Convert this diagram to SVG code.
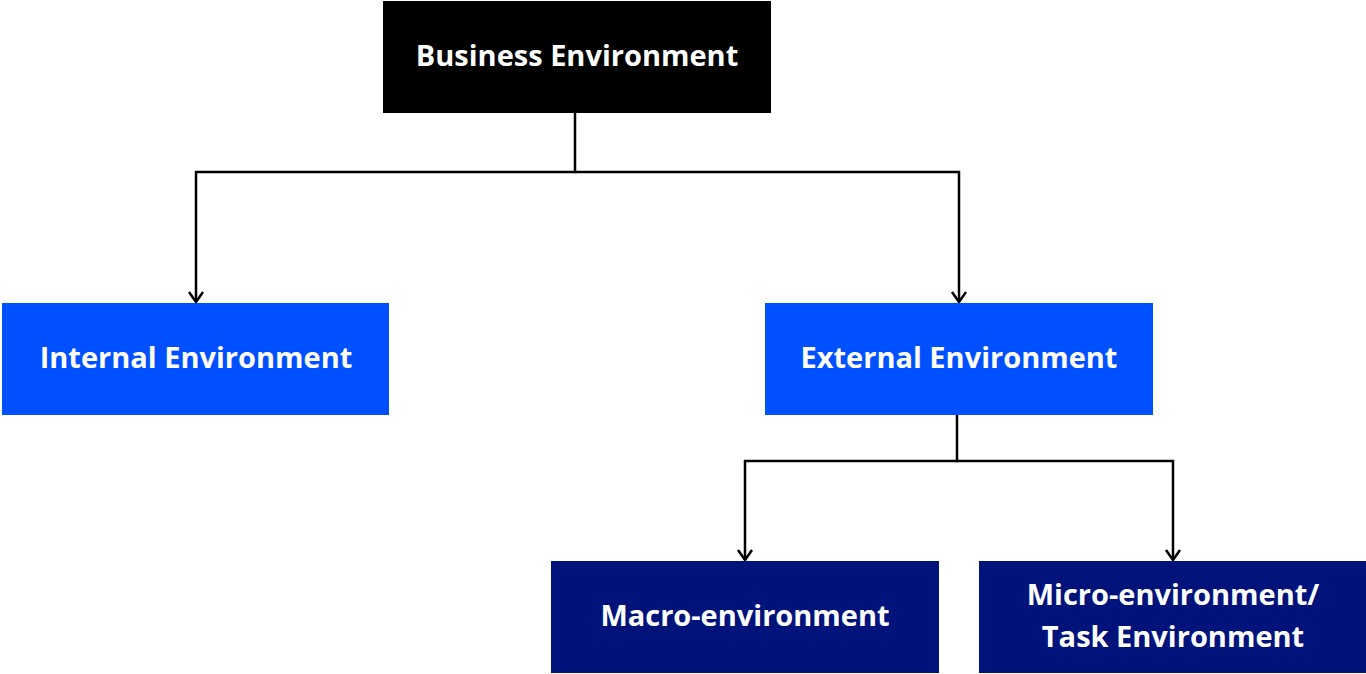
<svg xmlns="http://www.w3.org/2000/svg" width="1366" height="674" viewBox="0 0 1366 674">
<style>
.t{font-family:"Open Sans","Liberation Sans",sans-serif;font-weight:bold;font-size:29px;fill:#fff;text-anchor:middle}
.c{fill:none;stroke:#000;stroke-width:2.5}
</style>
<defs>
<marker id="a" viewBox="0 0 20 20" refX="18" refY="10" markerWidth="20" markerHeight="20" markerUnits="userSpaceOnUse" orient="auto">
<path d="M8 3 L18 10 L8 17" fill="none" stroke="#000" stroke-width="2.5"/>
</marker>
</defs>
<rect width="1366" height="674" fill="#fff"/>
<g id="connectors">
<path class="c" d="M575 113 V172 H196 V302" marker-end="url(#a)"/>
<path class="c" d="M575 172 H959 V302" marker-end="url(#a)"/>
<path class="c" d="M957 415 V461 H745 V560" marker-end="url(#a)"/>
<path class="c" d="M957 461 H1173 V560" marker-end="url(#a)"/>
</g>
<g id="business"><rect x="383" y="1" width="388" height="112" fill="#000"/><text class="t" x="577" y="66">Business Environment</text></g>
<g id="internal"><rect x="2" y="303" width="387" height="112" fill="#0050FF"/><text class="t" x="196" y="368">Internal Environment</text></g>
<g id="external"><rect x="765" y="303" width="388" height="112" fill="#0050FF"/><text class="t" x="959" y="368">External Environment</text></g>
<g id="macro"><rect x="551" y="561" width="388" height="112" fill="#00137A"/><text class="t" x="745" y="626">Macro-environment</text></g>
<g id="micro"><rect x="979" y="561" width="387" height="112" fill="#00137A"/><text class="t" x="1173" y="605">Micro-environment/</text><text class="t" x="1173" y="647">Task Environment</text></g>
</svg>
